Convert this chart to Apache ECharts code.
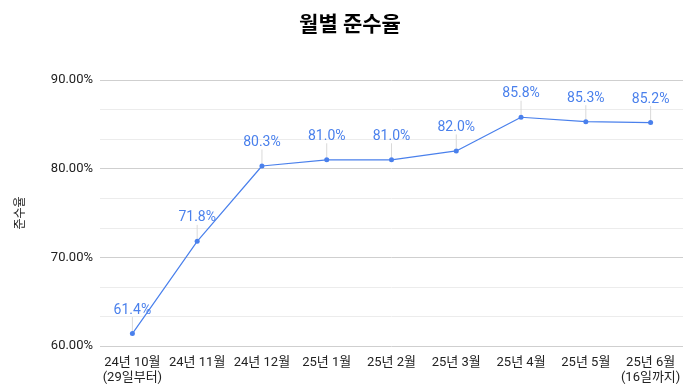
<!DOCTYPE html>
<html><head><meta charset="utf-8">
<script src="https://cdn.jsdelivr.net/npm/echarts@6/dist/echarts.min.js"></script>
<style>html,body{margin:0;padding:0;background:#fff}#c{width:700px;height:391px}</style>
</head><body><div id="c"></div>
<script>
const categories = ['24년 10월\n(29일부터)', '24년 11월', '24년 12월', '25년 1월', '25년 2월', '25년 3월', '25년 4월', '25년 5월', '25년 6월\n(16일까지)'];
const values = [61.4, 71.8, 80.3, 81.0, 81.0, 82.0, 85.8, 85.3, 85.2];
const yTicks = [60, 70, 80, 90];
const FONT = 'Roboto, "Noto Sans CJK KR", sans-serif';
const chart = echarts.init(document.getElementById('c'));
chart.setOption({
  animation: false,
  title: { text: '월별 준수율', left: 'center', top: 10, textStyle: { fontFamily: FONT, fontSize: 21, fontWeight: 'bold', color: '#000' } },
  grid: { left: 100, right: 17, top: 80, bottom: 45 },
  xAxis: {
    type: 'category', data: categories, boundaryGap: true,
    axisLine: { show: false }, axisTick: { show: false },
    axisLabel: { fontFamily: FONT, fontSize: 13, color: '#222', margin: 9, lineHeight: 15, interval: 0 }
  },
  yAxis: {
    type: 'value', min: yTicks[0], max: yTicks[yTicks.length - 1], interval: 10,
    name: '준수율', nameLocation: 'middle', nameRotate: 90, nameGap: 73,
    nameTextStyle: { fontFamily: FONT, fontSize: 12, color: '#222' },
    axisLine: { show: false }, axisTick: { show: false },
    axisLabel: { fontFamily: FONT, fontSize: 13, color: '#222', margin: 7, formatter: v => v.toFixed(2) + '%' },
    splitLine: { lineStyle: { color: '#cfcfcf', width: 1 } },
    minorTick: { show: false, splitNumber: 3 },
    minorSplitLine: { show: true, lineStyle: { color: '#ececec', width: 1 } }
  },
  series: [{
    type: 'line', data: values,
    symbol: 'circle', symbolSize: 5,
    itemStyle: { color: '#4a80ec' },
    lineStyle: { color: '#4a80ec', width: 1.2 },
    label: { show: true, position: 'top', distance: 4, fontFamily: FONT, fontSize: 14, color: '#4a80ec', formatter: p => p.value.toFixed(1) + '%' },
    labelLayout: { dy: -10 },
    labelLine: { show: true, lineStyle: { color: '#d9d9d9', width: 1 } }
  }]
});
</script></body></html>
